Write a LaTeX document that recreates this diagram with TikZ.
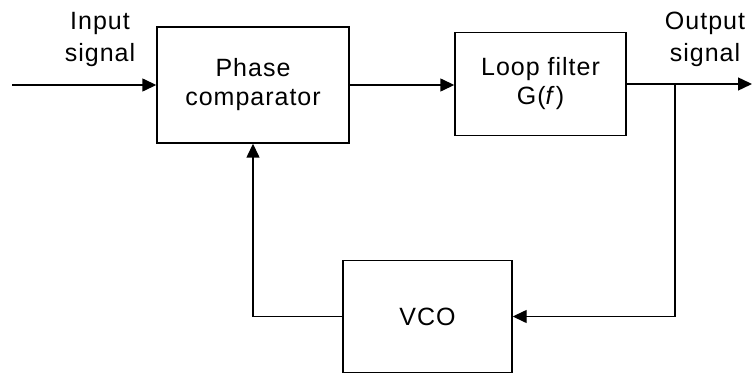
\documentclass[tikz,border=0pt]{standalone}
\usepackage{fontspec}
\setmainfont{Liberation Sans}[LetterSpace=4]
\usepackage{tikz}
\usetikzlibrary{arrows.meta,positioning}

\tikzset{
  blockbox/.style={draw,line width=1.4pt,align=center,inner sep=0pt},
  sigarrow/.style={line width=1.4pt,-{Triangle[length=14pt,width=13pt]}},
  labeltext/.style={align=center,inner sep=0pt}
}

\begin{document}
\begin{tikzpicture}[x=1pt,y=-1pt,font=\fontsize{25}{29}\selectfont]
  \useasboundingbox (0,0) rectangle (752,374);

  \node[blockbox,minimum width=192pt,minimum height=116pt] (phase) at (253,85) {Phase\\comparator};
  \node[blockbox,minimum width=171pt,minimum height=103pt] (loopf) at (540.5,84) {Loop filter\\G(\textit{f})};
  \node[blockbox,minimum width=169pt,minimum height=112pt] (vco) at (427.5,316.5) {VCO};

  \node[labeltext,font=\fontsize{25}{32}\selectfont] (inlabel) at (100,39.5) {Input\\signal};
  \node[labeltext,font=\fontsize{25}{32}\selectfont] (outlabel) at (705,39.5) {Output\\signal};

  \coordinate (insrc) at (12,85);
  \coordinate (jn) at (675,84);
  \coordinate (outend) at (752,84);

  \draw[sigarrow] (insrc) -- (phase.west);
  \draw[sigarrow] (phase.east) -- (phase.east -| loopf.west);
  \draw[sigarrow] (loopf.east) -- (outend);
  \draw[sigarrow] (jn) |- (vco.east);
  \draw[sigarrow] (vco.west) -| (phase.south);
\end{tikzpicture}
\end{document}
